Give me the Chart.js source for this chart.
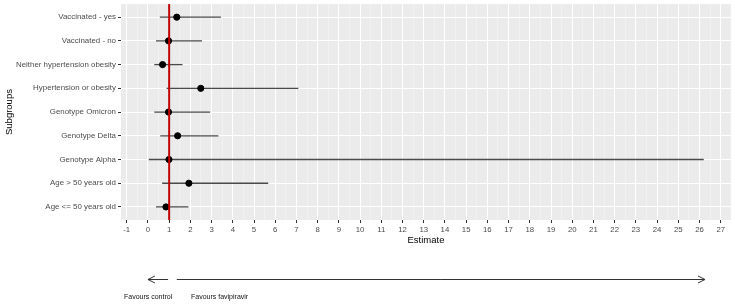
<!DOCTYPE html>
<html>
<head>
<meta charset="utf-8">
<script src="https://cdn.jsdelivr.net/npm/chart.js@4"></script>
<style>
  html, body { margin: 0; padding: 0; background: #fff; }
  #wrap { width: 735px; height: 305px; }
</style>
</head>
<body>
<div id="wrap"><canvas id="forest"></canvas></div>
<script>
// subgroups, top to bottom
const subgroups = [
  'Vaccinated - yes', 'Vaccinated - no', 'Neither hypertension obesity',
  'Hypertension or obesity', 'Genotype Omicron', 'Genotype Delta',
  'Genotype Alpha', 'Age > 50 years old', 'Age <= 50 years old'
];
const estimates = [1.36, 0.97, 0.69, 2.49, 0.97, 1.40, 0.99, 1.93, 0.85];
const lowerCI   = [0.56, 0.38, 0.30, 0.88, 0.30, 0.58, 0.04, 0.67, 0.38];
const upperCI   = [3.44, 2.55, 1.63, 7.09, 2.93, 3.32, 26.2, 5.67, 1.91];

const xTicks = [-1,0,1,2,3,4,5,6,7,8,9,10,11,12,13,14,15,16,17,18,19,20,21,22,23,24,25,26,27];
const refLine = 1;

// annotation arrows under the axis (in estimate units)
const arrowControl     = [0.95, 0];
const arrowFavipiravir = [1.36, 26.26];
const favourLabels = ['Favours control', 'Favours favipiravir'];

const FONT = "'Liberation Sans', Arial, sans-serif";

const panelBg = {
  id: 'panelBg',
  beforeDraw(chart) {
    const { ctx, chartArea: a } = chart;
    ctx.save();
    ctx.fillStyle = '#EBEBEB';
    ctx.fillRect(a.left, a.top, a.right - a.left, a.bottom - a.top);
    ctx.restore();
  }
};

const whiskers = {
  id: 'whiskers',
  beforeDatasetsDraw(chart) {
    const { ctx, scales: { x, y } } = chart;
    ctx.save();
    ctx.strokeStyle = '#4a4a4a';
    ctx.lineWidth = 1.3;
    subgroups.forEach((_, i) => {
      const py = y.getPixelForValue(i);
      ctx.beginPath();
      ctx.moveTo(x.getPixelForValue(lowerCI[i]), py);
      ctx.lineTo(x.getPixelForValue(upperCI[i]), py);
      ctx.stroke();
    });
    ctx.restore();
  },
  afterDatasetsDraw(chart) {
    const { ctx, chartArea: a, scales: { x } } = chart;
    const px = x.getPixelForValue(refLine);
    ctx.save();
    ctx.strokeStyle = '#c00000';
    ctx.lineWidth = 2;
    ctx.beginPath();
    ctx.moveTo(px, a.top);
    ctx.lineTo(px, a.bottom);
    ctx.stroke();
    ctx.restore();
  }
};

function arrow(ctx, x1, x2, y) {
  const dir = x2 > x1 ? 1 : -1;
  ctx.beginPath();
  ctx.moveTo(x1, y);
  ctx.lineTo(x2, y);
  ctx.moveTo(x2 - dir * 7, y - 3.5);
  ctx.lineTo(x2, y);
  ctx.lineTo(x2 - dir * 7, y + 3.5);
  ctx.stroke();
}

const favours = {
  id: 'favours',
  afterDraw(chart) {
    const { ctx, scales: { x } } = chart;
    const ay = 279.5;
    ctx.save();
    ctx.strokeStyle = '#333';
    ctx.lineWidth = 1;
    arrow(ctx, x.getPixelForValue(arrowControl[0]), x.getPixelForValue(arrowControl[1]), ay);
    arrow(ctx, x.getPixelForValue(arrowFavipiravir[0]), x.getPixelForValue(arrowFavipiravir[1]), ay);
    ctx.fillStyle = '#111';
    ctx.font = '7px ' + FONT;
    ctx.textBaseline = 'middle';
    ctx.textAlign = 'left';
    ctx.fillText(favourLabels[0], 124, 297);
    ctx.fillText(favourLabels[1], 191, 297);
    ctx.restore();
  }
};

new Chart(document.getElementById('forest'), {
  type: 'scatter',
  data: {
    datasets: [{
      data: estimates.map((v, i) => ({ x: v, y: i })),
      backgroundColor: '#000',
      borderColor: '#000',
      pointRadius: 3.1,
      pointHoverRadius: 3.1
    }]
  },
  options: {
    responsive: true,
    maintainAspectRatio: false,
    animation: false,
    layout: { padding: { top: 3, right: 2, left: 0, bottom: 0 } },
    plugins: { legend: { display: false }, tooltip: { enabled: false } },
    scales: {
      x: {
        type: 'linear',
        min: -1.27,
        max: 27.48,
        afterBuildTicks: s => {
          const t = [];
          for (let v = -1; v <= 27.01; v += 0.5) t.push({ value: v });
          s.ticks = t;
        },
        afterFit: s => { s.height = 85; s.paddingLeft = 0; s.paddingRight = 0; },
        border: { display: false },
        grid: {
          color: c => (c.tick && Number.isInteger(c.tick.value)) ? '#ffffff' : '#f5f5f5',
          lineWidth: c => (c.tick && Number.isInteger(c.tick.value)) ? 1 : 0.6,
          tickColor: c => (c.tick && Number.isInteger(c.tick.value)) ? '#333' : 'rgba(0,0,0,0)',
          tickLength: 3
        },
        ticks: {
          autoSkip: false,
          maxRotation: 0,
          color: '#4d4d4d',
          padding: 2,
          font: { family: FONT, size: 7.8 },
          callback: v => Number.isInteger(v) && xTicks.includes(v) ? String(v) : ''
        },
        title: {
          display: true,
          text: 'Estimate',
          color: '#000',
          font: { family: FONT, size: 9.5 },
          padding: { top: 0, bottom: 59 }
        }
      },
      y: {
        type: 'linear',
        reverse: true,
        min: -0.55,
        max: 8.55,
        afterBuildTicks: s => { s.ticks = subgroups.map((_, i) => ({ value: i })); },
        afterFit: s => { s.width = 121; s.paddingTop = 0; s.paddingBottom = 0; },
        border: { display: false },
        grid: { color: '#ffffff', lineWidth: 1, tickColor: '#333', tickLength: 3 },
        ticks: {
          autoSkip: false,
          color: '#4d4d4d',
          padding: 2,
          font: { family: FONT, size: 7.9 },
          callback: v => subgroups[v] || ''
        },
        title: {
          display: true,
          text: 'Subgroups',
          color: '#000',
          font: { family: FONT, size: 9.5 },
          padding: { top: 4, bottom: 0 }
        }
      }
    }
  },
  plugins: [panelBg, whiskers, favours]
});
</script>
</body>
</html>
